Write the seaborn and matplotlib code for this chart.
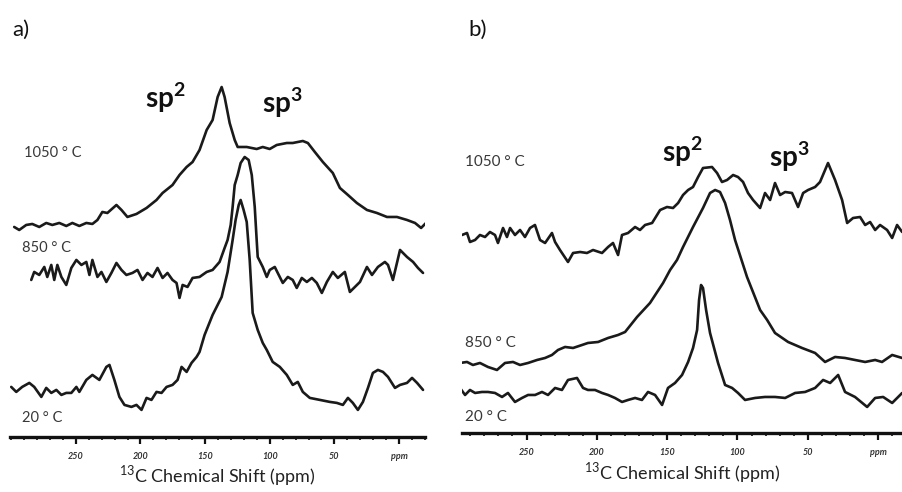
import numpy as np
import pandas as pd
import seaborn as sns
import matplotlib.pyplot as plt
from matplotlib.ticker import MultipleLocator

sns.set_style("white")
plt.rcParams['font.family'] = ['Lato', 'DejaVu Sans']
plt.rcParams['mathtext.fontset'] = 'custom'
plt.rcParams['mathtext.rm'] = 'Lato'
plt.rcParams['mathtext.bf'] = 'Lato:bold'
plt.rcParams['lines.solid_joinstyle'] = 'round'
plt.rcParams['lines.solid_capstyle'] = 'round'

# ---- panel a) : chemical shift (ppm) and intensity (arb. units, stacked) ----
a_1050_ppm = [297.7, 293.8, 288.4, 283.7, 278.3, 272.9, 268.2, 262.8, 257.4, 252.7, 247.3, 241.9, 237.2, 233.3,
              229.5, 225.6, 218.6, 214.7, 210.1, 203.1, 195.3, 187.6, 182.9, 175.2, 169.8, 164.3, 159.7, 154.3,
              148.8, 144.2, 140.3, 137.2, 134.9, 131.0, 127.1, 124.8, 117.8, 110.1, 105.4, 100.0, 94.6, 86.8,
              82.2, 74.4, 70.5, 65.1, 58.9, 51.2, 45.7, 39.5, 32.6, 24.8, 17.1, 9.3, 1.6, -6.2, -12.4, -17.1, -20.9]
a_1050_int = [213, 210, 215, 216, 213, 217, 215, 217, 214, 217, 214, 217, 216, 220,
              228, 227, 235, 230, 223, 226, 232, 240, 247, 255, 265, 273, 278, 290,
              310, 320, 343, 353, 343, 317, 300, 293, 293, 291, 293, 291, 295, 297,
              297, 299, 297, 288, 278, 267, 252, 245, 237, 230, 227, 223, 223, 220, 217, 212, 217]

a_850_ppm = [284.5, 282.2, 278.3, 274.4, 272.1, 269.0, 266.7, 264.3, 261.2, 257.4, 253.5, 249.6, 245.7, 241.9,
             239.5, 237.2, 233.3, 230.2, 226.4, 222.5, 218.6, 214.7, 210.9, 206.2, 202.3, 198.4, 194.6, 190.7,
             186.8, 182.9, 179.1, 175.2, 172.1, 169.8, 167.4, 163.6, 159.7, 154.3, 148.8, 144.2, 138.8, 134.9,
             132.6, 130.2, 128.7, 127.1, 124.8, 122.5, 119.4, 116.3, 113.9, 111.6, 110.1, 109.3, 105.4, 102.3,
             100.0, 96.1, 93.8, 89.9, 86.0, 82.2, 79.1, 75.2, 71.3, 67.4, 63.6, 59.7, 55.8, 51.2, 47.3, 41.9,
             38.0, 34.1, 30.2, 24.8, 20.9, 16.3, 10.9, 8.5, 4.7, -0.8, -6.2, -10.9, -14.7, -18.6]
a_850_int = [160, 168, 165, 173, 163, 175, 160, 175, 163, 155, 172, 180, 175, 178,
             165, 180, 163, 168, 158, 167, 177, 170, 165, 167, 170, 160, 167, 163,
             172, 162, 167, 160, 157, 142, 155, 153, 162, 163, 168, 170, 178, 192,
             200, 215, 233, 255, 265, 277, 283, 280, 265, 233, 200, 183, 173, 163,
             170, 173, 167, 157, 163, 160, 152, 162, 158, 162, 157, 147, 158, 168, 162, 168,
             148, 153, 158, 173, 165, 173, 178, 175, 160, 190, 183, 178, 172, 167]

a_20_ppm = [300.0, 296.1, 291.5, 286.0, 282.2, 276.7, 272.9, 269.0, 265.1, 261.2, 257.4, 253.5, 249.6, 247.3,
            241.9, 237.2, 231.8, 226.4, 224.0, 220.2, 216.3, 212.4, 207.0, 203.1, 199.2, 195.3, 191.5, 187.6,
            183.7, 179.8, 175.2, 171.3, 168.2, 164.3, 160.5, 156.6, 154.3, 150.4, 144.2, 137.2, 132.6, 128.7,
            126.4, 124.0, 122.5, 120.2, 117.8, 115.5, 113.2, 109.3, 105.4, 102.3, 97.7, 92.2, 86.8, 82.2, 78.3,
            74.4, 69.0, 61.2, 53.5, 48.1, 43.4, 39.5, 35.7, 31.8, 27.9, 24.0, 20.2, 16.3, 12.4, 8.5, 3.1,
            -0.8, -6.2, -10.1, -14.0, -18.6]
a_20_int = [53, 48, 53, 57, 53, 43, 52, 47, 50, 45, 47, 47, 53, 48,
            60, 65, 60, 73, 75, 60, 43, 35, 33, 35, 30, 42, 40, 48,
            47, 53, 55, 60, 73, 68, 77, 83, 88, 105, 125, 143, 168, 200,
            220, 235, 240, 230, 218, 180, 127, 110, 97, 90, 78, 73, 65, 55, 58,
            48, 42, 40, 38, 37, 35, 42, 37, 30, 38, 52, 67, 70, 68, 63, 52,
            55, 57, 62, 57, 50]

# ---- panel b) ----
b_1050_ppm = [295.9, 292.3, 290.2, 286.6, 283.1, 279.5, 276.0, 272.4, 270.3, 266.7, 263.9, 261.7, 258.2, 254.6,
              251.1, 247.5, 244.0, 240.4, 236.8, 231.9, 229.7, 226.2, 220.5, 216.9, 211.9, 207.0, 202.7, 196.3,
              192.0, 188.5, 184.9, 182.1, 177.8, 172.8, 169.3, 165.7, 160.7, 155.0, 150.1, 145.8, 142.2, 138.7,
              135.1, 131.6, 128.0, 124.5, 118.1, 114.5, 111.0, 107.4, 103.1, 99.6, 96.0, 92.5, 88.9, 83.9, 80.4,
              76.8, 73.3, 69.7, 66.1, 61.2, 56.9, 53.3, 49.8, 44.8, 41.3, 35.6, 30.6, 25.6, 22.0, 17.8, 12.8,
              9.2, 5.7, 2.1, -1.4, -6.4, -10.0, -13.5, -17.1]
b_1050_int = [205, 207, 198, 200, 205, 203, 208, 205, 197, 212, 203, 212, 205, 210,
              203, 212, 215, 200, 197, 207, 198, 190, 178, 187, 188, 187, 190, 187,
              193, 197, 185, 205, 207, 213, 210, 215, 217, 230, 233, 232, 237, 245,
              250, 253, 263, 272, 273, 267, 258, 260, 265, 263, 258, 247, 240, 232, 247,
              240, 257, 245, 248, 247, 233, 247, 250, 253, 258, 277, 260, 240, 217, 222, 223,
              215, 218, 210, 215, 210, 202, 215, 208]

b_850_ppm = [297.3, 292.3, 288.1, 283.1, 277.4, 271.0, 265.3, 259.6, 254.6, 248.9, 242.5, 236.8, 231.9, 227.6,
             222.6, 216.9, 210.5, 206.3, 199.1, 192.0, 184.9, 179.9, 171.4, 162.2, 152.9, 147.9, 143.0, 138.7,
             131.6, 124.5, 119.5, 115.9, 112.4, 108.8, 105.3, 101.7, 93.2, 83.9, 78.9, 73.3, 64.0, 54.1, 44.8,
             37.7, 30.6, 23.5, 16.4, 9.2, 2.1, -2.8, -10.0, -17.1]
b_850_int = [77, 78, 75, 77, 73, 70, 77, 78, 75, 77, 80, 82, 85, 90,
             93, 92, 95, 97, 98, 102, 105, 108, 123, 137, 157, 170, 180, 193,
             213, 232, 247, 250, 248, 237, 220, 200, 163, 130, 120, 107, 98, 92, 87,
             78, 83, 82, 80, 78, 80, 78, 85, 82]

b_20_ppm = [297.3, 293.7, 290.2, 286.6, 281.7, 277.4, 272.4, 267.4, 263.2, 258.2, 253.2, 248.9, 243.9, 239.0,
            234.7, 229.7, 224.8, 220.5, 214.1, 209.8, 206.3, 201.3, 196.3, 192.0, 187.1, 182.1, 177.8, 172.8,
            167.9, 163.6, 158.6, 153.6, 149.4, 144.4, 139.4, 135.1, 131.6, 128.7, 127.3, 125.9, 124.5, 122.3,
            119.5, 113.8, 108.8, 103.8, 99.6, 94.6, 87.5, 80.4, 73.3, 66.1, 59.0, 51.9, 44.8, 39.1, 34.1,
            28.4, 23.5, 16.4, 7.8, 2.1, -3.6, -10.0, -17.1]
b_20_int = [52, 45, 50, 47, 48, 48, 47, 43, 47, 38, 42, 45, 45, 48,
            45, 52, 50, 60, 62, 52, 50, 50, 47, 45, 42, 38, 40, 42,
            40, 48, 45, 35, 52, 57, 65, 78, 92, 110, 140, 155, 152, 130,
            107, 77, 55, 52, 47, 40, 42, 43, 43, 42, 47, 48, 52, 60, 57,
            65, 48, 43, 33, 42, 43, 37, 47]

tick_pos = [250, 200, 150, 100, 50, 0]
tick_txt = ['250', '200', '150', '100', '50', 'ppm']
temps = ['1050 ° C', '850 ° C', '20 ° C']

fig = plt.figure(figsize=(9.02, 4.92), dpi=100)
ax_a = fig.add_axes([0.011, 0.112, 0.460, 0.766])
ax_b = fig.add_axes([0.512, 0.120, 0.488, 0.758])

line_kw = dict(color='#1a1a1a', linewidth=1.9, sort=False, estimator=None)

for ppm, inten in [(a_1050_ppm, a_1050_int), (a_850_ppm, a_850_int), (a_20_ppm, a_20_int)]:
    sns.lineplot(x=ppm, y=inten, ax=ax_a, **line_kw)
for ppm, inten in [(b_1050_ppm, b_1050_int), (b_850_ppm, b_850_int), (b_20_ppm, b_20_int)]:
    sns.lineplot(x=ppm, y=inten, ax=ax_b, **line_kw)

ax_a.set_xlim(301, -20)
ax_a.set_ylim(3, 380)
ax_b.set_xlim(296, -17)
ax_b.set_ylim(7, 380)

for ax, label_y in [(ax_a, -0.103), (ax_b, -0.107)]:
    for s in ['top', 'right', 'left']:
        ax.spines[s].set_visible(False)
    ax.spines['bottom'].set_linewidth(2.4)
    ax.spines['bottom'].set_color('#111111')
    ax.set_yticks([])
    ax.set_xticks(tick_pos)
    ax.set_xticklabels(tick_txt, fontsize=6.5, fontstyle='italic', fontweight='bold', color='#333333')
    ax.xaxis.set_minor_locator(MultipleLocator(10))
    ax.tick_params(axis='x', which='major', direction='out', length=5, width=1.6, color='#111111', pad=6)
    ax.tick_params(axis='x', which='minor', direction='out', length=2.5, width=1.2, color='#111111')
    ax.tick_params(axis='x', which='both', bottom=True)
    ax.set_xlabel(r'$^{13}$C Chemical Shift (ppm)', fontsize=13, color='#222222', va='center')
    ax.xaxis.set_label_coords(0.5, label_y)
    ax.set_facecolor('none')

# temperature labels
for (x, y), t in zip([(290, 287), (292, 192), (292, 22)], temps):
    ax_a.text(x, y, t, fontsize=10.5, color='#383838', va='center', ha='left')
for (x, y), t in zip([(294, 278), (294, 97), (294, 23)], temps):
    ax_b.text(x, y, t, fontsize=11, color='#383838', va='center', ha='left')

ax_a.text(181, 342, r'$\mathbf{sp^{2}}$', fontsize=20, ha='center', va='center', color='#111111')
ax_a.text(90, 337, r'$\mathbf{sp^{3}}$', fontsize=20, ha='center', va='center', color='#111111')
ax_b.text(139, 288, r'$\mathbf{sp^{2}}$', fontsize=20, ha='center', va='center', color='#111111')
ax_b.text(63, 283, r'$\mathbf{sp^{3}}$', fontsize=20, ha='center', va='center', color='#111111')

fig.text(12 / 902, 1 - 30 / 492, 'a)', fontsize=16, va='center', ha='left', color='#111111')
fig.text(468 / 902, 1 - 30 / 492, 'b)', fontsize=16, va='center', ha='left', color='#111111')

fig.savefig('out.png', dpi=100)
